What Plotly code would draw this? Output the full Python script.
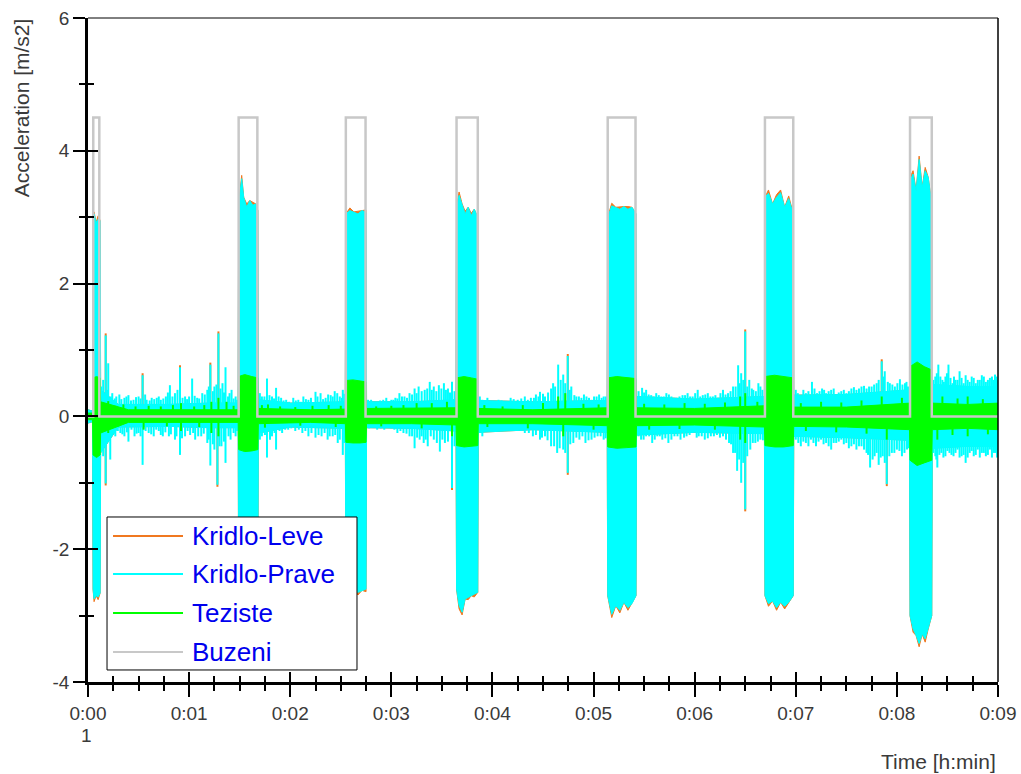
import plotly.graph_objects as go

# ---------------- data ----------------
series_names = ["Kridlo-Leve", "Kridlo-Prave", "Teziste", "Buzeni"]
series_colors = ["#F07820", "#00FFFF", "#00FF00", "#C8C8C8"]

x_tick_vals = [0, 1, 2, 3, 4, 5, 6, 7, 8, 9]
x_tick_text = ["0:00", "0:01", "0:02", "0:03", "0:04", "0:05", "0:06", "0:07", "0:08", "0:09"]
y_tick_vals = [-4, -2, 0, 2, 4, 6]
y_tick_text = ["-4", "-2", "0", "2", "4", "6"]

# Buzeni (excitation) on/off times [min] and level
buzeni_on = [0.052, 1.49, 2.55, 3.645, 5.14, 6.695, 8.13]
buzeni_off = [0.112, 1.675, 2.745, 3.855, 5.415, 6.975, 8.345]
buzeni_level = 4.5

# Kridlo-Prave envelope samples (time, max, min)
prave_t = [0.00, 0.045, 0.05, 0.06, 0.08, 0.10, 0.12, 0.125, 0.30, 0.80, 1.20, 1.485,
           1.49, 1.52, 1.54, 1.57, 1.60, 1.63, 1.66, 1.68, 1.685, 2.00, 2.545,
           2.55, 2.59, 2.63, 2.67, 2.71, 2.75, 2.755, 3.20, 3.64,
           3.645, 3.67, 3.70, 3.73, 3.76, 3.79, 3.82, 3.855, 3.86, 4.40, 5.135,
           5.14, 5.18, 5.22, 5.26, 5.30, 5.34, 5.38, 5.42, 5.425, 6.00, 6.69,
           6.695, 6.73, 6.77, 6.81, 6.85, 6.89, 6.93, 6.975, 6.98, 7.50, 8.125,
           8.13, 8.16, 8.19, 8.22, 8.25, 8.28, 8.31, 8.345, 8.35, 8.70, 9.00]
prave_hi = [0.10, 0.08, 2.95, 3.05, 2.92, 2.97, 2.95, 0.40, 0.18, 0.18, 0.20, 0.20,
            3.20, 3.58, 3.30, 3.15, 3.25, 3.18, 3.20, 3.10, 0.25, 0.20, 0.22,
            3.05, 3.10, 3.08, 3.05, 3.10, 3.07, 0.22, 0.22, 0.25,
            3.15, 3.33, 3.20, 3.05, 3.15, 3.02, 3.12, 3.00, 0.24, 0.22, 0.24,
            3.00, 3.17, 3.15, 3.12, 3.16, 3.12, 3.15, 3.05, 0.30, 0.26, 0.30,
            3.30, 3.36, 3.20, 3.30, 3.37, 3.15, 3.28, 3.05, 0.32, 0.33, 0.40,
            3.55, 3.65, 3.40, 3.87, 3.45, 3.70, 3.60, 3.20, 0.48, 0.45, 0.45]
prave_lo = [-0.10, -0.08, -2.60, -2.75, -2.70, -2.72, -2.66, -0.55, -0.16, -0.15, -0.17, -0.17,
            -2.65, -2.70, -2.72, -2.68, -2.70, -2.70, -2.66, -2.60, -0.25, -0.16, -0.18,
            -2.60, -2.62, -2.62, -2.65, -2.62, -2.60, -0.17, -0.18, -0.22,
            -2.60, -2.85, -2.95, -2.75, -2.72, -2.70, -2.68, -2.65, -0.24, -0.20, -0.24,
            -2.70, -2.98, -2.85, -2.92, -2.80, -2.88, -2.82, -2.70, -0.28, -0.24, -0.26,
            -2.70, -2.82, -2.78, -2.88, -2.80, -2.86, -2.80, -2.70, -0.30, -0.32, -0.36,
            -3.00, -3.20, -3.30, -3.42, -3.28, -3.35, -3.20, -3.00, -0.48, -0.45, -0.45]

# Kridlo-Prave peaks between the excitation blocks (time, value)
prave_spike_t = [0.15, 0.175, 0.20, 0.24, 0.28, 0.31, 0.36, 0.40, 0.45, 0.50, 0.54, 0.58, 0.63, 0.68,
                 0.72, 0.77, 0.81, 0.86, 0.91, 0.96, 1.00, 1.03, 1.08, 1.13, 1.18, 1.21, 1.25, 1.29,
                 1.33, 1.36, 1.40, 1.42, 1.46,
                 0.15, 0.175, 0.22, 0.27, 0.32, 0.36, 0.40, 0.46, 0.50, 0.54, 0.60, 0.65, 0.70, 0.74,
                 0.80, 0.86, 0.91, 0.96, 1.01, 1.06, 1.12, 1.18, 1.21, 1.25, 1.28, 1.32, 1.36, 1.41, 1.46,
                 1.72, 1.77, 1.82, 1.86, 1.91, 1.96, 2.03, 2.08, 2.13, 2.18, 2.25, 2.30, 2.35, 2.40,
                 2.44, 2.49, 2.52,
                 1.72, 1.77, 1.82, 1.86, 1.92, 1.98, 2.05, 2.12, 2.18, 2.25, 2.31, 2.37, 2.42, 2.47, 2.52,
                 2.80, 2.86, 2.92, 2.95, 3.00, 3.04, 3.08, 3.13, 3.18, 3.23, 3.27, 3.33, 3.38, 3.42,
                 3.47, 3.52, 3.56, 3.60,
                 2.80, 2.86, 2.93, 3.00, 3.06, 3.12, 3.18, 3.23, 3.28, 3.32, 3.36, 3.42, 3.48, 3.53, 3.60,
                 3.90, 3.95, 4.00, 4.06, 4.12, 4.18, 4.25, 4.32, 4.38, 4.43, 4.47, 4.52, 4.58, 4.62,
                 4.65, 4.70, 4.745, 4.78, 4.83, 4.88, 4.93, 4.98, 5.03, 5.08, 5.12,
                 3.90, 3.95, 4.02, 4.10, 4.18, 4.25, 4.32, 4.40, 4.47, 4.52, 4.58, 4.64, 4.70, 4.745,
                 4.80, 4.86, 4.92, 4.98, 5.04, 5.10,
                 5.48, 5.52, 5.57, 5.62, 5.67, 5.72, 5.77, 5.82, 5.88, 5.93, 5.98, 6.03, 6.08, 6.13,
                 6.18, 6.23, 6.28, 6.33, 6.38, 6.43, 6.46, 6.50, 6.54, 6.58, 6.63, 6.67,
                 5.47, 5.52, 5.58, 5.63, 5.68, 5.74, 5.80, 5.86, 5.92, 5.98, 6.04, 6.10, 6.16, 6.22,
                 6.28, 6.34, 6.38, 6.42, 6.46, 6.50, 6.55, 6.60, 6.65,
                 7.00, 7.05, 7.10, 7.16, 7.21, 7.26, 7.30, 7.35, 7.40, 7.45, 7.50, 7.55, 7.60, 7.65,
                 7.70, 7.75, 7.80, 7.85, 7.88, 7.93, 7.98, 8.03, 8.08, 8.11,
                 7.00, 7.05, 7.10, 7.15, 7.20, 7.25, 7.30, 7.35, 7.40, 7.45, 7.50, 7.55, 7.60, 7.65,
                 7.70, 7.735, 7.78, 7.82, 7.86, 7.90, 7.95, 8.00, 8.05, 8.10,
                 8.38, 8.41, 8.45, 8.48, 8.51, 8.55, 8.58, 8.62, 8.66, 8.70, 8.74, 8.78, 8.82, 8.86,
                 8.90, 8.94, 8.97, 8.99,
                 8.38, 8.40, 8.44, 8.48, 8.52, 8.56, 8.60, 8.64, 8.68, 8.72, 8.76, 8.80, 8.84, 8.88,
                 8.92, 8.96, 8.99]
prave_spike_v = [0.55, 1.22, 0.80, 0.35, 0.30, 0.33, 0.28, 0.32, 0.25, 0.30, 0.62, 0.25, 0.28, 0.28,
                 0.25, 0.30, 0.47, 0.35, 0.74, 0.30, 0.30, 0.57, 0.28, 0.35, 0.40, 0.78, 0.45, 1.25,
                 0.50, 0.74, 0.35, 0.40, 0.30,
                 -0.60, -1.01, -0.65, -0.30, -0.25, -0.30, -0.38, -0.30, -0.25, -0.73, -0.25, -0.30, -0.22, -0.30,
                 -0.30, -0.35, -0.58, -0.30, -0.28, -0.35, -0.30, -0.40, -0.74, -0.50, -1.03, -0.45, -0.70, -0.35, -0.30,
                 0.30, 0.57, 0.30, 0.43, 0.28, 0.25, 0.28, 0.25, 0.30, 0.25, 0.37, 0.35, 0.28, 0.32,
                 0.38, 0.30, 0.40,
                 -0.30, -0.62, -0.30, -0.50, -0.25, -0.20, -0.22, -0.25, -0.30, -0.32, -0.30, -0.35, -0.30, -0.40, -0.58,
                 0.25, 0.22, 0.25, 0.28, 0.25, 0.28, 0.35, 0.30, 0.35, 0.42, 0.45, 0.40, 0.52, 0.45,
                 0.47, 0.50, 0.42, 0.52,
                 -0.15, -0.20, -0.20, -0.18, -0.25, -0.25, -0.30, -0.48, -0.35, -0.40, -0.45, -0.35, -0.53, -0.40, -1.08,
                 0.25, 0.28, 0.22, 0.25, 0.22, 0.28, 0.25, 0.30, 0.28, 0.33, 0.37, 0.30, 0.42, 0.45,
                 0.78, 0.63, 0.91, 0.45, 0.30, 0.28, 0.30, 0.25, 0.30, 0.28, 0.30,
                 -0.30, -0.20, -0.15, -0.18, -0.20, -0.22, -0.25, -0.30, -0.35, -0.30, -0.45, -0.55, -0.50, -0.85,
                 -0.40, -0.35, -0.40, -0.35, -0.30, -0.35,
                 0.43, 0.40, 0.32, 0.35, 0.30, 0.35, 0.30, 0.28, 0.32, 0.35, 0.30, 0.40, 0.32, 0.35,
                 0.30, 0.28, 0.40, 0.35, 0.45, 0.77, 0.65, 1.28, 0.55, 0.40, 0.50, 0.40,
                 -0.35, -0.30, -0.40, -0.30, -0.35, -0.40, -0.30, -0.35, -0.30, -0.25, -0.30, -0.35, -0.30, -0.28,
                 -0.30, -0.40, -0.55, -0.82, -1.00, -1.40, -0.50, -0.40, -0.35,
                 0.40, 0.30, 0.35, 0.52, 0.35, 0.42, 0.35, 0.40, 0.30, 0.38, 0.35, 0.42, 0.40, 0.45,
                 0.42, 0.45, 0.50, 0.83, 0.68, 0.50, 0.45, 0.56, 0.50, 0.45,
                 -0.35, -0.45, -0.40, -0.35, -0.45, -0.35, -0.40, -0.50, -0.40, -0.35, -0.40, -0.45, -0.50, -0.45,
                 -0.55, -0.77, -0.60, -0.73, -0.60, -1.02, -0.55, -0.50, -0.60, -0.50,
                 0.60, 0.78, 0.55, 0.60, 0.78, 0.50, 0.55, 0.68, 0.50, 0.55, 0.60, 0.50, 0.55, 0.60,
                 0.55, 0.60, 0.63, 0.55,
                 -0.60, -0.77, -0.55, -0.60, -0.55, -0.60, -0.50, -0.60, -0.70, -0.55, -0.60, -0.50, -0.55, -0.60,
                 -0.50, -0.55, -0.62]

# Kridlo-Prave smaller oscillation peaks in the quiet parts (time, value)
prave_fine_t = [0.13, 0.19, 0.225, 0.265, 0.33, 0.38, 0.425, 0.475, 0.52, 0.565, 0.61, 0.655, 0.70, 0.745,
                0.79, 0.835, 0.885, 0.935, 0.98, 1.055, 1.10, 1.155, 1.195, 1.235, 1.27, 1.31, 1.345,
                1.385, 1.44, 1.475,
                0.13, 0.19, 0.245, 0.295, 0.34, 0.385, 0.43, 0.48, 0.52, 0.57, 0.625, 0.675, 0.72, 0.765,
                0.82, 0.875, 0.93, 0.985, 1.04, 1.09, 1.145, 1.195, 1.235, 1.30, 1.345, 1.39, 1.44, 1.475,
                1.70, 1.745, 1.795, 1.84, 1.885, 1.935, 1.99, 2.055, 2.105, 2.155, 2.205, 2.27, 2.325,
                2.375, 2.42, 2.465, 2.51, 2.535,
                1.70, 1.75, 1.80, 1.845, 1.895, 1.95, 2.01, 2.085, 2.15, 2.21, 2.28, 2.34, 2.39, 2.445,
                2.49, 2.535,
                2.77, 2.83, 2.89, 2.975, 3.02, 3.06, 3.105, 3.155, 3.205, 3.25, 3.30, 3.355, 3.40, 3.445,
                3.495, 3.54, 3.58, 3.625,
                2.78, 2.83, 2.895, 2.965, 3.03, 3.09, 3.15, 3.205, 3.255, 3.30, 3.34, 3.39, 3.45, 3.505,
                3.56, 3.625,
                3.875, 3.925, 3.975, 4.03, 4.09, 4.15, 4.21, 4.285, 4.35, 4.41, 4.455, 4.50, 4.55, 4.60,
                4.675, 4.72, 4.765, 4.81, 4.855, 4.905, 4.955, 5.005, 5.055, 5.10,
                3.875, 3.93, 3.99, 4.06, 4.14, 4.21, 4.285, 4.36, 4.43, 4.49, 4.545, 4.61, 4.665, 4.72,
                4.77, 4.83, 4.89, 4.95, 5.01, 5.07, 5.12,
                5.445, 5.50, 5.545, 5.595, 5.645, 5.695, 5.745, 5.795, 5.85, 5.905, 5.955, 6.005, 6.055,
                6.105, 6.155, 6.205, 6.255, 6.305, 6.355, 6.405, 6.445, 6.48, 6.52, 6.565, 6.605, 6.65,
                5.445, 5.495, 5.55, 5.605, 5.655, 5.71, 5.77, 5.83, 5.895, 5.95, 6.02, 6.07, 6.13, 6.19,
                6.25, 6.31, 6.36, 6.40, 6.44, 6.48, 6.52, 6.575, 6.625, 6.675,
                7.02, 7.075, 7.125, 7.185, 7.235, 7.28, 7.325, 7.375, 7.425, 7.475, 7.525, 7.575, 7.625,
                7.675, 7.725, 7.775, 7.82, 7.87, 7.91, 7.955, 8.005, 8.055, 8.095,
                7.025, 7.075, 7.125, 7.175, 7.225, 7.275, 7.325, 7.375, 7.425, 7.475, 7.525, 7.575, 7.625,
                7.675, 7.715, 7.76, 7.80, 7.84, 7.88, 7.925, 7.975, 8.025, 8.075, 8.115,
                8.36, 8.395, 8.43, 8.465, 8.495, 8.53, 8.565, 8.60, 8.64, 8.68, 8.72, 8.76, 8.80, 8.84,
                8.88, 8.92, 8.955, 8.985,
                8.36, 8.39, 8.42, 8.46, 8.50, 8.54, 8.58, 8.62, 8.66, 8.70, 8.74, 8.78, 8.82, 8.86,
                8.90, 8.94, 8.975]
prave_fine_v = [0.45, 0.40, 0.30, 0.27, 0.26, 0.30, 0.24, 0.29, 0.27, 0.33, 0.24, 0.26, 0.30, 0.27,
                0.36, 0.30, 0.40, 0.28, 0.26, 0.31, 0.27, 0.33, 0.45, 0.38, 0.48, 0.42, 0.36,
                0.30, 0.27, 0.25,
                -0.45, -0.35, -0.25, -0.22, -0.27, -0.24, -0.20, -0.26, -0.30, -0.22, -0.27, -0.20, -0.28, -0.24,
                -0.27, -0.30, -0.33, -0.22, -0.25, -0.30, -0.26, -0.35, -0.42, -0.45, -0.38, -0.30, -0.25, -0.22,
                0.35, 0.30, 0.32, 0.27, 0.30, 0.24, 0.22, 0.24, 0.22, 0.26, 0.28, 0.30, 0.26,
                0.33, 0.30, 0.35, 0.28, 0.34,
                -0.35, -0.28, -0.35, -0.25, -0.22, -0.20, -0.18, -0.20, -0.22, -0.25, -0.28, -0.25, -0.30, -0.28,
                -0.35, -0.40,
                0.25, 0.22, 0.24, 0.22, 0.25, 0.27, 0.30, 0.28, 0.33, 0.35, 0.38, 0.42, 0.40, 0.38,
                0.42, 0.40, 0.36, 0.38,
                -0.18, -0.16, -0.18, -0.17, -0.20, -0.22, -0.26, -0.30, -0.32, -0.30, -0.35, -0.30, -0.40, -0.35,
                -0.38, -0.45,
                0.30, 0.24, 0.22, 0.23, 0.24, 0.22, 0.26, 0.27, 0.25, 0.28, 0.30, 0.34, 0.36, 0.50,
                0.55, 0.50, 0.40, 0.32, 0.30, 0.33, 0.28, 0.30, 0.33, 0.30,
                -0.25, -0.18, -0.16, -0.17, -0.19, -0.20, -0.22, -0.25, -0.28, -0.32, -0.36, -0.45, -0.48, -0.55,
                -0.42, -0.32, -0.30, -0.36, -0.32, -0.30, -0.33,
                0.38, 0.36, 0.33, 0.30, 0.32, 0.30, 0.33, 0.28, 0.30, 0.32, 0.30, 0.35, 0.30,
                0.33, 0.30, 0.32, 0.35, 0.33, 0.38, 0.45, 0.50, 0.55, 0.45, 0.42, 0.38, 0.45,
                -0.30, -0.35, -0.30, -0.35, -0.30, -0.33, -0.35, -0.30, -0.32, -0.28, -0.32, -0.30, -0.33, -0.30,
                -0.32, -0.35, -0.42, -0.55, -0.65, -0.70, -0.60, -0.40, -0.38, -0.36,
                0.35, 0.40, 0.38, 0.42, 0.38, 0.40, 0.38, 0.42, 0.36, 0.40, 0.38, 0.44, 0.42,
                0.46, 0.45, 0.48, 0.55, 0.60, 0.52, 0.48, 0.50, 0.48, 0.52,
                -0.40, -0.38, -0.45, -0.40, -0.38, -0.42, -0.45, -0.40, -0.38, -0.42, -0.48, -0.42, -0.45,
                -0.50, -0.58, -0.65, -0.55, -0.62, -0.70, -0.60, -0.55, -0.52, -0.55, -0.48,
                0.55, 0.65, 0.60, 0.52, 0.65, 0.58, 0.60, 0.55, 0.58, 0.62, 0.52, 0.58, 0.55, 0.62,
                0.52, 0.58, 0.55, 0.60,
                -0.55, -0.65, -0.58, -0.62, -0.52, -0.58, -0.55, -0.62, -0.58, -0.62, -0.52, -0.58, -0.62, -0.55,
                -0.58, -0.62, -0.55]

# Kridlo-Leve envelope samples (same sample times as Kridlo-Prave)
leve_hi = [0.10, 0.08, 3.00, 3.08, 2.92, 3.02, 2.95, 0.40, 0.18, 0.18, 0.20, 0.20,
           3.20, 3.63, 3.30, 3.20, 3.25, 3.23, 3.20, 3.10, 0.25, 0.20, 0.22,
           3.05, 3.14, 3.08, 3.09, 3.10, 3.11, 0.22, 0.22, 0.25,
           3.15, 3.38, 3.20, 3.09, 3.15, 3.06, 3.12, 3.00, 0.24, 0.22, 0.24,
           3.00, 3.21, 3.15, 3.16, 3.16, 3.16, 3.15, 3.05, 0.30, 0.26, 0.30,
           3.30, 3.41, 3.20, 3.34, 3.41, 3.15, 3.32, 3.05, 0.32, 0.33, 0.40,
           3.60, 3.70, 3.40, 3.92, 3.45, 3.75, 3.60, 3.20, 0.48, 0.45, 0.45]
leve_lo = [-0.10, -0.08, -2.60, -2.79, -2.70, -2.76, -2.66, -0.55, -0.16, -0.15, -0.17, -0.17,
           -2.65, -2.74, -2.72, -2.72, -2.70, -2.74, -2.66, -2.60, -0.25, -0.16, -0.18,
           -2.60, -2.66, -2.62, -2.69, -2.62, -2.64, -0.17, -0.18, -0.22,
           -2.60, -2.90, -2.99, -2.75, -2.76, -2.70, -2.72, -2.65, -0.24, -0.20, -0.24,
           -2.70, -3.03, -2.85, -2.96, -2.80, -2.92, -2.82, -2.70, -0.28, -0.24, -0.26,
           -2.70, -2.86, -2.78, -2.92, -2.80, -2.90, -2.80, -2.70, -0.30, -0.32, -0.36,
           -3.00, -3.25, -3.30, -3.47, -3.28, -3.40, -3.20, -3.00, -0.48, -0.45, -0.45]
leve_spike_t = [0.175, 0.54, 0.91, 1.21, 1.29, 4.745, 6.50, 7.85, 0.175, 1.28, 3.60, 4.745, 6.50, 7.90]
leve_spike_v = [1.25, 0.65, 0.77, 0.81, 1.28, 0.94, 1.31, 0.86, -1.04, -1.06, -1.11, -0.88, -1.43, -1.05]

# Teziste envelope samples (time, max, min)
teziste_t = [0.00, 0.045, 0.05, 0.085, 0.12, 0.125, 0.40, 0.90, 1.485,
             1.49, 1.55, 1.62, 1.68, 1.685, 2.20, 2.545,
             2.55, 2.62, 2.69, 2.75, 2.755, 3.20, 3.64,
             3.645, 3.72, 3.79, 3.855, 3.86, 4.40, 5.135,
             5.14, 5.23, 5.33, 5.42, 5.425, 6.00, 6.69,
             6.695, 6.79, 6.88, 6.975, 6.98, 7.50, 8.125,
             8.13, 8.20, 8.27, 8.345, 8.35, 8.70, 9.00]
teziste_hi = [0.05, 0.05, 0.58, 0.60, 0.58, 0.22, 0.10, 0.10, 0.10,
              0.60, 0.63, 0.60, 0.58, 0.12, 0.10, 0.11,
              0.54, 0.55, 0.53, 0.52, 0.12, 0.12, 0.13,
              0.58, 0.60, 0.58, 0.56, 0.12, 0.10, 0.13,
              0.58, 0.60, 0.58, 0.57, 0.13, 0.12, 0.16,
              0.60, 0.62, 0.60, 0.58, 0.14, 0.14, 0.20,
              0.75, 0.82, 0.75, 0.70, 0.20, 0.18, 0.20]
teziste_lo = [-0.05, -0.05, -0.58, -0.62, -0.58, -0.25, -0.09, -0.09, -0.09,
              -0.50, -0.53, -0.52, -0.50, -0.11, -0.09, -0.11,
              -0.39, -0.40, -0.40, -0.39, -0.11, -0.11, -0.13,
              -0.44, -0.46, -0.45, -0.44, -0.11, -0.11, -0.14,
              -0.46, -0.48, -0.47, -0.46, -0.14, -0.13, -0.16,
              -0.44, -0.46, -0.46, -0.44, -0.15, -0.16, -0.20,
              -0.66, -0.74, -0.70, -0.66, -0.20, -0.18, -0.20]
teziste_spike_t = [0.20, 0.27, 0.35, 0.47, 0.60, 0.72, 0.84, 0.92, 1.05, 1.15, 1.22, 1.29, 1.37, 1.44,
                   1.72, 1.78, 1.90, 2.05, 2.22, 2.38, 2.50, 2.85, 3.00, 3.12, 3.25, 3.40, 3.55,
                   3.92, 4.10, 4.30, 4.50, 4.65, 4.72, 4.90, 5.05, 5.50, 5.70, 5.90, 6.10, 6.30,
                   6.45, 6.50, 6.62, 7.05, 7.25, 7.45, 7.65, 7.85, 8.05, 8.45, 8.60, 8.70, 8.85,
                   0.20, 0.30, 0.55, 0.78, 0.92, 1.10, 1.22, 1.29, 1.75, 2.10, 2.45, 2.90, 3.30,
                   3.60, 3.95, 4.35, 4.70, 5.00, 5.55, 5.85, 6.20, 6.45, 6.50, 7.10, 7.40, 7.70,
                   7.90, 8.40, 8.55, 8.70, 8.90]
teziste_spike_v = [0.23, 0.16, 0.18, 0.15, 0.16, 0.15, 0.17, 0.20, 0.15, 0.17, 0.22, 0.28, 0.22, 0.16,
                   0.17, 0.18, 0.15, 0.14, 0.16, 0.17, 0.16, 0.15, 0.16, 0.17, 0.20, 0.20, 0.22,
                   0.17, 0.15, 0.17, 0.20, 0.30, 0.35, 0.19, 0.18, 0.19, 0.18, 0.20, 0.19, 0.21,
                   0.30, 0.35, 0.22, 0.20, 0.22, 0.21, 0.24, 0.30, 0.28, 0.30, 0.27, 0.30, 0.26,
                   -0.25, -0.15, -0.20, -0.15, -0.22, -0.16, -0.25, -0.30, -0.17, -0.14, -0.16, -0.15, -0.18,
                   -0.30, -0.16, -0.18, -0.30, -0.20, -0.20, -0.19, -0.20, -0.35, -0.40, -0.22, -0.24, -0.26,
                   -0.35, -0.35, -0.28, -0.30, -0.27]

# ---------------- figure ----------------
C_LEVE, C_PRAVE, C_TEZ, C_BUZ = series_colors


def band(t, hi, lo, color):
    return go.Scatter(x=list(t) + list(t)[::-1], y=list(hi) + list(lo)[::-1],
                      mode="lines", fill="toself", fillcolor=color,
                      line=dict(color=color, width=1), showlegend=False, hoverinfo="skip")


def spikes(t, v, color, width):
    xs, ys = [], []
    for ti, vi in zip(t, v):
        xs += [ti, ti, None]
        ys += [0, vi, None]
    return go.Scatter(x=xs, y=ys, mode="lines", line=dict(color=color, width=width),
                      showlegend=False, hoverinfo="skip")


fig = go.Figure()
fig.add_trace(band(prave_t, leve_hi, leve_lo, C_LEVE))
fig.add_trace(spikes(leve_spike_t, leve_spike_v, C_LEVE, 2))
fig.add_trace(band(prave_t, prave_hi, prave_lo, C_PRAVE))
fig.add_trace(spikes(prave_spike_t + prave_fine_t, prave_spike_v + prave_fine_v, C_PRAVE, 2))
fig.add_trace(band(teziste_t, teziste_hi, teziste_lo, C_TEZ))
fig.add_trace(spikes(teziste_spike_t, teziste_spike_v, C_TEZ, 2))

bx, by = [0.0], [0.0]
for s, e in zip(buzeni_on, buzeni_off):
    bx += [s, s, e, e]
    by += [0, buzeni_level, buzeni_level, 0]
bx.append(9.0)
by.append(0.0)
fig.add_trace(go.Scatter(x=bx, y=by, mode="lines", line=dict(color=C_BUZ, width=2.5),
                         showlegend=False, hoverinfo="skip"))

# dummy trace for overlay axes (inside half of the crossing ticks)
fig.add_trace(go.Scatter(x=[0], y=[0], xaxis="x2", yaxis="y2", mode="lines",
                         line=dict(width=0), showlegend=False, hoverinfo="skip"))

TICKFONT = dict(family="Liberation Sans, Arial, sans-serif", size=19, color="#3a3a3a")

fig.update_layout(
    width=1021, height=774,
    margin=dict(l=88, r=23, t=18, b=92),
    paper_bgcolor="white", plot_bgcolor="white",
    showlegend=False,
    xaxis=dict(range=[0, 9], tickvals=x_tick_vals, ticktext=x_tick_text, automargin=False,
               ticklabeloverflow="allow",
               ticks="outside", ticklen=12, tickwidth=1.5, tickcolor="black",
               minor=dict(tick0=0, dtick=0.25, ticks="outside", ticklen=6,
                          tickwidth=1.5, tickcolor="black"),
               showline=True, linewidth=2.5, linecolor="black",
               showgrid=False, zeroline=False, tickfont=TICKFONT),
    yaxis=dict(range=[-4, 6], tickvals=y_tick_vals, ticktext=y_tick_text, automargin=False,
               ticklabeloverflow="allow",
               ticks="outside", ticklen=12, tickwidth=1.5, tickcolor="black",
               minor=dict(tick0=0, dtick=1, ticks="outside", ticklen=6,
                          tickwidth=1.5, tickcolor="black"),
               showline=True, linewidth=2.5, linecolor="black",
               showgrid=False, zeroline=False, tickfont=TICKFONT),
    xaxis2=dict(overlaying="x", anchor="y", side="bottom", range=[0, 9], automargin=False,
                tickvals=x_tick_vals, ticks="inside", ticklen=10, tickwidth=1.5,
                tickcolor="black", showticklabels=False, showline=False,
                minor=dict(tick0=0, dtick=0.25, ticks="inside", ticklen=6,
                           tickwidth=1.5, tickcolor="black"),
                showgrid=False, zeroline=False),
    yaxis2=dict(overlaying="y", anchor="x", side="left", range=[-4, 6], automargin=False,
                tickvals=y_tick_vals, ticks="inside", ticklen=10, tickwidth=1.5,
                tickcolor="black", showticklabels=False, showline=False,
                minor=dict(tick0=0, dtick=1, ticks="inside", ticklen=6,
                           tickwidth=1.5, tickcolor="black"),
                showgrid=False, zeroline=False),
)

# thin frame on top and right
fig.add_shape(type="line", xref="paper", yref="paper", x0=0, x1=1, y0=1, y1=1,
              line=dict(color="black", width=1))
fig.add_shape(type="line", xref="paper", yref="paper", x0=1, x1=1, y0=0, y1=1,
              line=dict(color="black", width=1.5))

# axis titles and the extra "1" under the first time label
AXFONT = dict(family="Liberation Sans, Arial, sans-serif", size=21, color="#3a3a3a")
fig.add_annotation(text="Acceleration [m/s2]", xref="paper", yref="paper",
                   x=-0.073, y=0.865, textangle=-90, showarrow=False,
                   xanchor="center", yanchor="middle", font=AXFONT)
fig.add_annotation(text="Time [h:min]", xref="paper", yref="paper",
                   x=0.9995, y=-0.119, showarrow=False, xanchor="right",
                   yanchor="middle", font=AXFONT)
fig.add_annotation(text="1", xref="paper", yref="paper", x=-0.002, y=-0.080,
                   showarrow=False, xanchor="center", yanchor="middle", font=TICKFONT)

# legend box
lx0, lx1, ly0, ly1 = 0.0209, 0.2956, 0.0181, 0.2485
fig.add_shape(type="rect", xref="paper", yref="paper", x0=lx0, x1=lx1, y0=ly0, y1=ly1,
              fillcolor="white", line=dict(color="black", width=1), layer="above")
row_y = [0.2199, 0.1627, 0.1039, 0.0452]
for name, col, yy in zip(series_names, series_colors, row_y):
    fig.add_shape(type="line", xref="paper", yref="paper", x0=0.0275, x1=0.1044,
                  y0=yy, y1=yy, line=dict(color=col, width=2), layer="above")
    fig.add_annotation(text=name, xref="paper", yref="paper", x=0.1120, y=yy,
                       showarrow=False, xanchor="left", yanchor="middle",
                       font=dict(family="Liberation Sans, Arial, sans-serif",
                                 size=26, color="#0000EE"))

fig.write_html("out.html")
